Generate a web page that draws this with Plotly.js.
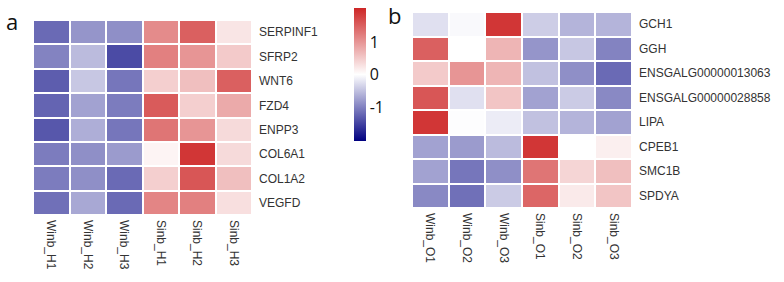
<!DOCTYPE html>
<html>
<head>
<meta charset="utf-8">
<script src="https://cdn.plot.ly/plotly-3.0.1.min.js"></script>
<style>html,body{margin:0;padding:0;background:#fff;}#chart{width:784px;height:282px;}</style>
</head>
<body>
<div id="chart"></div>
<script>
// Panel a
const colsA = ["Winb_H1", "Winb_H2", "Winb_H3", "Sinb_H1", "Sinb_H2", "Sinb_H3"];
const genesA = ["SERPINF1", "SFRP2", "WNT6", "FZD4", "ENPP3", "COL6A1", "COL1A2", "VEGFD"];
const valuesA = [
  [-1.20, -0.85, -0.90, 1.10, 1.50, 0.25],
  [-1.00, -0.55, -1.45, 1.20, 1.00, 0.50],
  [-1.30, -0.45, -1.10, 0.45, 0.60, 1.50],
  [-1.25, -0.75, -1.05, 1.55, 0.45, 0.80],
  [-1.35, -0.65, -1.10, 1.30, 1.00, 0.35],
  [-1.05, -0.90, -0.80, 0.10, 1.90, 0.35],
  [-1.05, -0.90, -1.20, 0.45, 1.60, 0.60],
  [-1.15, -0.70, -1.20, 1.15, 1.20, 0.30]
];
// Panel b
const colsB = ["Winb_O1", "Winb_O2", "Winb_O3", "Sinb_O1", "Sinb_O2", "Sinb_O3"];
const genesB = ["GCH1", "GGH", "ENSGALG00000013063", "ENSGALG00000028858", "LIPA", "CPEB1", "SMC1B", "SPDYA"];
const valuesB = [
  [-0.25, -0.05, 1.90, -0.40, -0.60, -0.60],
  [1.50, 0.00, 0.70, -0.85, -0.45, -1.00],
  [0.50, 1.00, 0.70, -0.50, -0.90, -1.20],
  [1.60, -0.25, 0.55, -0.75, -0.42, -0.95],
  [1.90, -0.02, -0.15, -0.50, -0.60, -0.75],
  [-0.75, -0.80, -0.55, 1.90, 0.00, 0.15],
  [-0.75, -1.10, -0.90, 1.30, 0.40, 0.60],
  [-0.95, -1.15, -0.42, 1.45, 0.20, 0.55]
];
const scaleTicks = [-1, 0, 1];
const scaleTickText = ["-1", "0", "1"];

const W = 784, H = 282;
const fx = p => p / W;
const fy = p => 1 - p / H;

const labelFont = {family: "Arial", size: 12, color: "#333"};

const traces = [
  {type: "heatmap", z: valuesA, x: colsA, y: genesA, coloraxis: "coloraxis",
   xgap: 2, ygap: 2, xaxis: "x", yaxis: "y", hoverinfo: "x+y+z"},
  {type: "heatmap", z: valuesB, x: colsB, y: genesB, coloraxis: "coloraxis",
   xgap: 2, ygap: 2, xaxis: "x2", yaxis: "y2", hoverinfo: "x+y+z"}
];

const axX = (dom, anchor) => ({domain: dom, anchor: anchor, tickangle: 90, ticks: "", showgrid: false,
  zeroline: false, showline: false, tickfont: labelFont, fixedrange: true, ticklabelstandoff: 4});
const axY = (dom, anchor) => ({domain: dom, anchor: anchor, side: "right", autorange: "reversed", ticks: "",
  showgrid: false, zeroline: false, showline: false, tickfont: labelFont, fixedrange: true, ticklabelstandoff: 6});

const layout = {
  width: W, height: H,
  margin: {l: 0, r: 0, t: 0, b: 0},
  paper_bgcolor: "#fff", plot_bgcolor: "#fff",
  showlegend: false,
  xaxis: axX([fx(33), fx(252)], "y"),
  yaxis: axY([fy(215), fy(20)], "x"),
  xaxis2: axX([fx(412), fx(632)], "y2"),
  yaxis2: axY([fy(208), fy(12)], "x2"),
  coloraxis: {
    cmin: -2.05, cmax: 2.05,
    colorscale: [[0, "#000080"], [0.5, "#ffffff"], [1, "#cd2626"]],
    colorbar: {
      x: fx(354), xanchor: "left", y: fy(74.5), yanchor: "middle",
      thickness: 12, thicknessmode: "pixels", len: 133, lenmode: "pixels",
      xpad: 0, ypad: 0, outlinewidth: 0, ticks: "",
      tickvals: scaleTicks, ticktext: scaleTickText,
      tickfont: {family: "Open Sans", size: 16, color: "#111"}
    }
  },
  annotations: [
    {text: "a", x: fx(4), y: fy(4), xref: "paper", yref: "paper", xanchor: "left", yanchor: "top",
     showarrow: false, font: {family: "Open Sans", size: 22, color: "#111"}},
    {text: "b", x: fx(386), y: fy(-2), xref: "paper", yref: "paper", xanchor: "left", yanchor: "top",
     showarrow: false, font: {family: "Open Sans", size: 22, color: "#111"}}
  ]
};

Plotly.newPlot("chart", traces, layout, {displayModeBar: false, staticPlot: true});
</script>
</body>
</html>
